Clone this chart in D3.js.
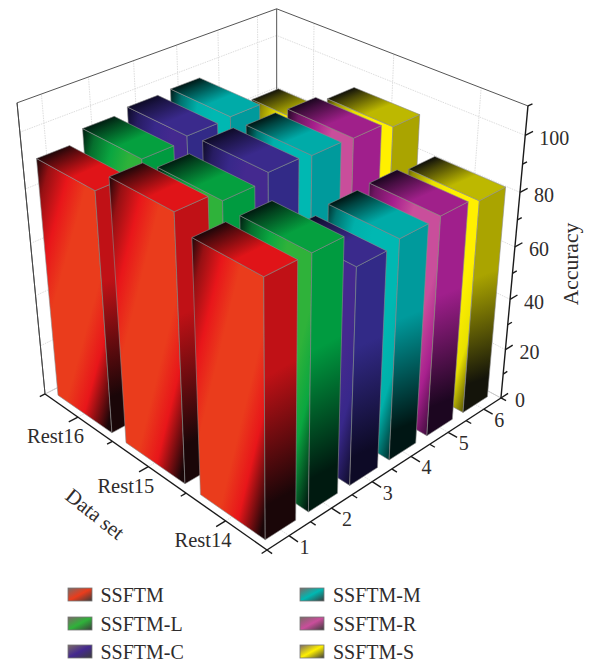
<!DOCTYPE html>
<html>
<head>
<meta charset="utf-8">
<style>
  html, body { margin: 0; padding: 0; background: #fff; }
  svg { display: block; }
  text { font-family: "Liberation Serif", "DejaVu Serif", serif; fill: #2f2c2c; }
</style>
<script src="https://d3js.org/d3.v7.min.js"></script>
</head>
<body>
<svg id="chart" width="589" height="663"></svg>
<script>
// Accuracy per model, one value per data set in the order of dataSets.
const dataSets = ["Rest14", "Rest15", "Rest16"];
const seriesNames = ["SSFTM", "SSFTM-L", "SSFTM-C", "SSFTM-M", "SSFTM-R", "SSFTM-S"];
const ssftm  = [93.3, 98.7, 91.2];
const ssftmL = [93.2, 95.2, 95.3];
const ssftmC = [80.9, 97.8, 96.8];
const ssftmM = [82.8, 96.9, 97.3];
const ssftmR = [83.3, 96.4, 78.0];
const ssftmS = [81.5, 94.1, 81.5];
const seriesValues = [ssftm, ssftmL, ssftmC, ssftmM, ssftmR, ssftmS];
const seriesTicks = [1, 2, 3, 4, 5, 6];
const accuracyMajor = [0, 20, 40, 60, 80, 100];
const accuracyMinor = [10, 30, 50, 70, 90, 110];

// Face colours: top, left-hand face band (outer, centre), right-hand face.
const topColors   = ["#e01418", "#05a03f", "#3a2a8c", "#00aba8", "#a0208a", "#bdb800"];
const leftOuter   = ["#e8161a", "#0aa640", "#38288a", "#00b0aa", "#a8208e", "#e8e000"];
const leftCentre  = ["#ea3c1c", "#2fb23a", "#44298f", "#00b8b2", "#c94e9b", "#fff000"];
const rightColors = ["#c01116", "#009b40", "#322a87", "#009a9c", "#a01f8c", "#aaa400"];
const darkEnds    = ["#1a0608", "#001a10", "#0d0a26", "#001614", "#1c0620", "#14140a"];

const svg = d3.select("#chart");
const defs = svg.append("defs");

// Scales from data units to the unit cube of the plot.
const xUnit = d3.scaleLinear().domain([0.5, 6.5]).range([0, 1]);
const yUnit = d3.scaleLinear().domain([-0.5, 2.5]).range([0, 1]);
const zUnit = d3.scaleLinear().domain([0, 110]).range([0, 1]);

// Perspective camera expressed as a homography of the unit cube.
const cam = {
  ox: 267, oy: 550,
  ax: 305.6, ay: -95.1, g: 0.143,
  bx: -215.3, by: -97.7, h: 0.148,
  cx: -34.24, cy: -346.9, k: -0.1233
};
function project(u, v, w) {
  const d = 1 + u * cam.g + v * cam.h + w * cam.k;
  return [
    (cam.ox + u * cam.ax + v * cam.bx + w * cam.cx) / d,
    (cam.oy + u * cam.ay + v * cam.by + w * cam.cy) / d
  ];
}
const path = d3.line();
const seg = (a, b) => path([project(...a), project(...b)]);

// Back walls and floor grid.
const grid = svg.append("g").attr("fill", "none").attr("stroke", "#d4d4d4")
  .attr("stroke-width", 0.8).attr("stroke-dasharray", "1.5 1");
seriesTicks.forEach(t => {
  const u = xUnit(t);
  grid.append("path").attr("d", seg([u, 1, 0], [u, 1, 1]));
  grid.append("path").attr("d", seg([u, 0, 0], [u, 1, 0]));
});
dataSets.forEach((_, j) => {
  const v = yUnit(j);
  grid.append("path").attr("d", seg([1, v, 0], [1, v, 1]));
  grid.append("path").attr("d", seg([0, v, 0], [1, v, 0]));
});
accuracyMajor.forEach(t => {
  const w = zUnit(t);
  grid.append("path").attr("d", seg([0, 1, w], [1, 1, w]));
  grid.append("path").attr("d", seg([1, 0, w], [1, 1, w]));
});

// Outer frame of the cube.
const frame = svg.append("g").attr("fill", "none").attr("stroke", "#555").attr("stroke-width", 1);
frame.append("path").attr("d", path([project(0, 1, 0), project(0, 1, 1), project(1, 1, 1), project(1, 0, 1)]));
frame.append("path").attr("d", seg([1, 1, 0], [1, 1, 1]));
const floorEdge = svg.append("g").attr("fill", "none").attr("stroke", "#bbb").attr("stroke-width", 0.8);
floorEdge.append("path").attr("d", path([project(0, 1, 0), project(1, 1, 0), project(1, 0, 0)]));

// One gradient per series for each visible face.
function addGradient(id, [x1, y1, x2, y2], stops) {
  const g = defs.append("linearGradient").attr("id", id)
    .attr("x1", x1).attr("y1", y1).attr("x2", x2).attr("y2", y2);
  stops.forEach(([o, c]) => g.append("stop").attr("offset", o).attr("stop-color", c));
}
seriesNames.forEach((_, s) => {
  addGradient(`top${s}`, [0.16, 0.14, 0.84, 0.86], [
    [0, darkEnds[s]], [0.16, d3.interpolateRgb(darkEnds[s], topColors[s])(0.3)],
    [0.58, topColors[s]], [1, topColors[s]]
  ]);
  addGradient(`left${s}`, [0, 0, 1, 1], [
    [0, darkEnds[s]], [0.1, d3.interpolateRgb(darkEnds[s], leftOuter[s])(0.6)],
    [0.24, leftOuter[s]], [0.38, leftCentre[s]], [0.64, leftCentre[s]],
    [0.78, leftOuter[s]], [0.96, darkEnds[s]], [1, darkEnds[s]]
  ]);
  addGradient(`right${s}`, [0, 0, 0.07, 1], [
    [0, rightColors[s]], [0.42, rightColors[s]],
    [0.88, darkEnds[s]], [1, darkEnds[s]]
  ]);
});

// Bars painted from the far corner towards the viewer.
const barWidthX = 0.7, barWidthY = 0.8;
const bars = svg.append("g").attr("stroke", "#8c8c8c").attr("stroke-width", 0.6).attr("stroke-linejoin", "round");
d3.range(dataSets.length - 1, -1, -1).forEach(j => {
  d3.range(seriesNames.length - 1, -1, -1).forEach(s => {
    const u0 = xUnit(seriesTicks[s] - barWidthX / 2), u1 = xUnit(seriesTicks[s] + barWidthX / 2);
    const v0 = yUnit(j - barWidthY / 2), v1 = yUnit(j + barWidthY / 2);
    const w = zUnit(seriesValues[s][j]);
    const poly = (pts, fill) => bars.append("path")
      .attr("d", path(pts.map(p => project(...p))) + "Z")
      .attr("fill", `url(#${fill})`);
    poly([[u0, v1, w], [u0, v0, w], [u0, v0, 0], [u0, v1, 0]], `left${s}`);
    poly([[u0, v0, w], [u1, v0, w], [u1, v0, 0], [u0, v0, 0]], `right${s}`);
    poly([[u0, v1, w], [u1, v1, w], [u1, v0, w], [u0, v0, w]], `top${s}`);
  });
});

// Axes along the three near edges.
const axes = svg.append("g").attr("fill", "none").attr("stroke", "#1a1a1a").attr("stroke-width", 1.4);
axes.append("path").attr("d", seg([0, 0, 0], [1, 0, 0]));
axes.append("path").attr("d", seg([0, 0, 0], [0, 1, 0]));
axes.append("path").attr("d", seg([1, 0, 0], [1, 0, 1]));
axes.append("path").attr("stroke-width", 0.9).attr("stroke", "#444").attr("d", seg([0, 1, 0], [0, 1, 1]));

const majorLen = 0.035, minorLen = 0.02;
seriesTicks.forEach(t => {
  axes.append("path").attr("d", seg([xUnit(t), 0, 0], [xUnit(t), -majorLen, 0]));
  axes.append("path").attr("d", seg([xUnit(t - 0.5), 0, 0], [xUnit(t - 0.5), -minorLen, 0]));
  const [px, py] = project(xUnit(t), 0, 0);
  svg.append("text").attr("x", px + 15.5).attr("y", py + 18).attr("text-anchor", "middle")
    .attr("font-size", 20).text(t);
});
axes.append("path").attr("d", seg([1, 0, 0], [1, -minorLen, 0]));

dataSets.forEach((name, j) => {
  axes.append("path").attr("d", seg([0, yUnit(j), 0], [-majorLen, yUnit(j), 0]));
  axes.append("path").attr("d", seg([0, yUnit(j - 0.5), 0], [-minorLen, yUnit(j - 0.5), 0]));
  const [px, py] = project(0, yUnit(j), 0);
  svg.append("text").attr("x", px - 22.5).attr("y", py + 26).attr("text-anchor", "middle")
    .attr("font-size", 20.5).text(name);
});
axes.append("path").attr("d", seg([0, 1, 0], [-minorLen, 1, 0]));

accuracyMajor.forEach(t => {
  axes.append("path").attr("d", seg([1, 0, zUnit(t)], [1 + majorLen, 0, zUnit(t)]));
  const [px, py] = project(1, 0, zUnit(t));
  svg.append("text").attr("x", px + 14).attr("y", py + 9.5).attr("font-size", 20).text(t);
});
accuracyMinor.forEach(t => {
  axes.append("path").attr("d", seg([1, 0, zUnit(t)], [1 + minorLen, 0, zUnit(t)]));
});

// Axis titles.
svg.append("text").attr("transform", "translate(95,514) rotate(38.5)")
  .attr("text-anchor", "middle").attr("dominant-baseline", "central")
  .attr("font-size", 21).text("Data set");
svg.append("text").attr("transform", "translate(578,264) rotate(-90)")
  .attr("text-anchor", "middle").attr("font-size", 21.5).text("Accuracy");

// Legend in two columns of three.
const swatchCol = [68, 300], textCol = [100.5, 333], rowY = [588, 617, 645];
seriesNames.forEach((name, s) => {
  const col = s < 3 ? 0 : 1, row = s % 3;
  const gid = `swatch${s}`;
  addGradient(gid, [0, 0, 1, 1], [
    [0, "#7a6a66"], [0.5, leftCentre[s]], [1, "#3c3c3c"]
  ]);
  svg.append("rect").attr("x", swatchCol[col]).attr("y", rowY[row])
    .attr("width", 24).attr("height", 13)
    .attr("fill", `url(#${gid})`).attr("stroke", "#777").attr("stroke-width", 0.8);
  svg.append("text").attr("x", textCol[col]).attr("y", rowY[row] + 13.5)
    .attr("font-size", 20).text(name);
});
</script>
</body>
</html>
